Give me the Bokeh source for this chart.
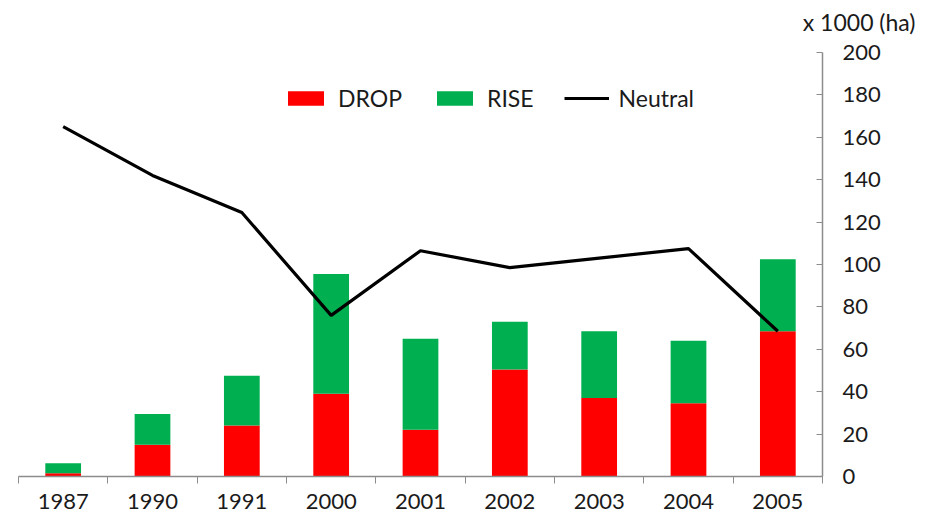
from bokeh.plotting import figure
from bokeh.models import ColumnDataSource, Range1d, FixedTicker, Legend, LegendItem, Title
from bokeh.embed import file_html
from bokeh.resources import INLINE

years = ["1987", "1990", "1991", "2000", "2001", "2002", "2003", "2004", "2005"]
drop = [1.5, 15, 24, 39, 22, 50.5, 37, 34.5, 68.5]
rise = [4.8, 14.5, 23.5, 56.5, 43, 22.5, 31.5, 29.5, 34]
neutral = [165, 142, 124.5, 76, 106.5, 98.5, 103, 107.5, 68.5]
y_ticks = [0, 20, 40, 60, 80, 100, 120, 140, 160, 180, 200]

FONT = "Lato"
FS = "22px"
AXIS_COLOR = "#8c8c8c"
TEXT_COLOR = "#1a1a1a"

idx = list(range(len(years)))
src = ColumnDataSource(dict(x=idx, drop=drop, rise=rise, neutral=neutral))

p = figure(frame_width=804, frame_height=424, min_border_left=18, min_border_top=50,
           min_border_right=100, min_border_bottom=40,
           x_range=Range1d(-0.5, len(years) - 0.5), y_range=Range1d(0, 200),
           y_axis_location="right", output_backend="svg", toolbar_location=None)

bars = p.vbar_stack(["drop", "rise"], x="x", width=0.4, source=src,
                    color=["#ff0000", "#00b050"], line_color=None)
ln = p.line("x", "neutral", source=src, line_color="black", line_width=3.2)

p.xgrid.visible = False
p.ygrid.visible = False
p.outline_line_color = None

xa = p.xaxis[0]
xa.ticker = FixedTicker(ticks=idx, minor_ticks=[i - 0.5 for i in range(len(years) + 1)])
xa.major_label_overrides = {i: y for i, y in enumerate(years)}
xa.major_tick_out = 0
xa.major_tick_in = 0
xa.minor_tick_out = 7
xa.minor_tick_in = 0
xa.minor_tick_line_color = AXIS_COLOR
xa.axis_line_color = AXIS_COLOR
xa.axis_line_width = 1.5
xa.major_label_text_font = FONT
xa.major_label_text_font_size = FS
xa.major_label_text_color = TEXT_COLOR
xa.major_label_standoff = 10

ya = p.yaxis[0]
ya.ticker = FixedTicker(ticks=y_ticks, minor_ticks=[])
ya.major_tick_in = 6
ya.major_tick_out = 0
ya.major_tick_line_color = AXIS_COLOR
ya.axis_line_color = AXIS_COLOR
ya.axis_line_width = 1.5
ya.major_label_text_font = FONT
ya.major_label_text_font_size = FS
ya.major_label_text_color = TEXT_COLOR
ya.major_label_standoff = 20

legend = Legend(items=[LegendItem(label="DROP", renderers=[bars[0]]),
                       LegendItem(label="RISE", renderers=[bars[1]]),
                       LegendItem(label="Neutral", renderers=[ln])],
                orientation="horizontal", location=(265, 364))
legend.border_line_color = None
legend.background_fill_alpha = 0
legend.padding = 0
legend.margin = 0
legend.spacing = 30
legend.glyph_width = 45
legend.glyph_height = 18
legend.label_standoff = 10
legend.label_text_font = FONT
legend.label_text_font_size = "23px"
legend.label_text_color = TEXT_COLOR
p.add_layout(legend)

# spacer to lift the unit label away from the frame
p.add_layout(Title(text=" ", text_font_size="4px", standoff=5), "above")
p.add_layout(Title(text="x 1000 (ha)", align="right", offset=-93,
                   text_font=FONT, text_font_size="23px", text_color=TEXT_COLOR,
                   text_font_style="normal"), "above")

open("out.html", "w").write(file_html(p, INLINE))
